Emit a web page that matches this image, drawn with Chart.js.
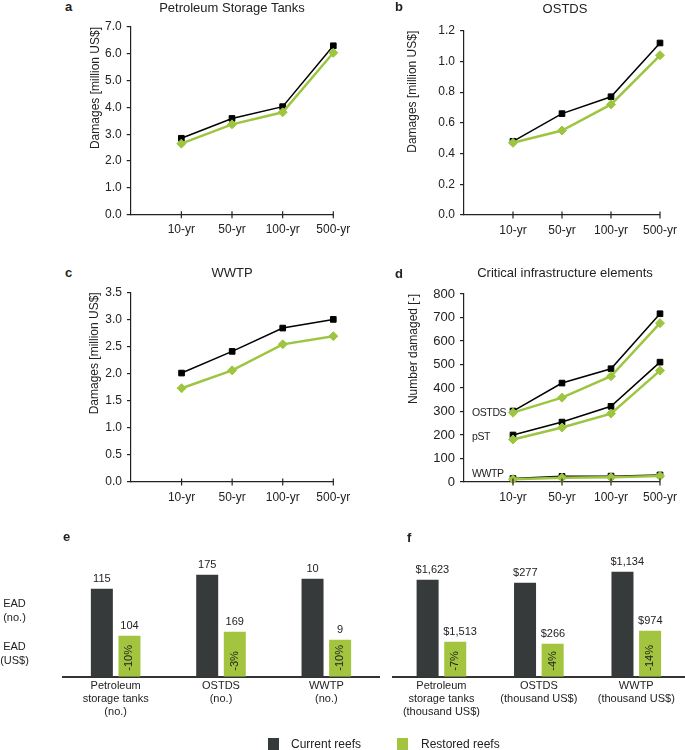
<!DOCTYPE html>
<html>
<head>
<meta charset="utf-8">
<script src="https://cdn.jsdelivr.net/npm/chart.js@4.4.1/dist/chart.umd.min.js"></script>
<style>
  body { margin: 0; background: #fff; }
  #fig { position: relative; width: 685px; height: 750px; overflow: hidden;
         font-family: "Liberation Sans", Arial, sans-serif; color: #222; }
  #fig canvas { position: absolute; }
  .t { position: absolute; white-space: nowrap; line-height: 1; }
  .ttl { font-size: 13px; text-align: center; width: 240px; }
  .lt { font-size: 13px; font-weight: bold; }
  .ann { font-size: 10.5px; letter-spacing: -0.4px; }
  .ead { font-size: 11px; line-height: 14px; text-align: center; width: 29px; left: 0; }
  .sw { position: absolute; width: 11px; height: 12px; }
  .lg { font-size: 12px; }
</style>
</head>
<body>
<div id="fig">
  <canvas id="chA"></canvas>
  <canvas id="chB"></canvas>
  <canvas id="chC"></canvas>
  <canvas id="chD"></canvas>
  <canvas id="chE"></canvas>
  <canvas id="chF"></canvas>

  <div class="t lt" style="left:65px;top:0px">a</div>
  <div class="t ttl" style="left:112px;top:1px">Petroleum Storage Tanks</div>
  <div class="t lt" style="left:395px;top:0px">b</div>
  <div class="t ttl" style="left:445px;top:2px">OSTDS</div>
  <div class="t lt" style="left:65px;top:266px">c</div>
  <div class="t ttl" style="left:112px;top:266px">WWTP</div>
  <div class="t lt" style="left:395px;top:267px">d</div>
  <div class="t ttl" style="left:445px;top:266px">Critical infrastructure elements</div>

  <div class="t ann" style="left:472px;top:407px">OSTDS</div>
  <div class="t ann" style="left:472px;top:431px">pST</div>
  <div class="t ann" style="left:472px;top:468px">WWTP</div>

  <div class="t lt" style="left:63px;top:530px">e</div>
  <div class="t lt" style="left:407px;top:531px">f</div>
  <div class="t ead" style="top:596px">EAD<br>(no.)</div>
  <div class="t ead" style="top:639px">EAD<br>(US$)</div>

  <div class="sw" style="left:268px;top:738px;background:#363a3b"></div>
  <div class="t lg" style="left:291px;top:738px">Current reefs</div>
  <div class="sw" style="left:397px;top:738px;background:#a3c43f"></div>
  <div class="t lg" style="left:421px;top:738px">Restored reefs</div>
</div>

<script>
// ---- data ----
var returnPeriods = ["10-yr", "50-yr", "100-yr", "500-yr"];

// a: petroleum storage tanks, damages [million US$]
var pstCurrent = [2.85, 3.59, 4.03, 6.30];
var pstRestored = [2.65, 3.37, 3.82, 6.04];

// b: OSTDS, damages [million US$]
var ostdsCurrent = [0.48, 0.66, 0.77, 1.12];
var ostdsRestored = [0.47, 0.55, 0.72, 1.04];

// c: WWTP, damages [million US$]
var wwtpCurrent = [2.01, 2.41, 2.84, 3.00];
var wwtpRestored = [1.73, 2.06, 2.54, 2.69];

// d: number of elements damaged
var nOstdsCurrent = [302, 421, 482, 716];
var nOstdsRestored = [295, 359, 450, 676];
var nPstCurrent = [200, 255, 322, 510];
var nPstRestored = [181, 232, 291, 474];
var nWwtpCurrent = [15, 24, 25, 30];
var nWwtpRestored = [12, 18, 20, 26];

// e / f: EAD bars. Bars are drawn schematically in the figure, so the
// heights are the drawn heights; the printed values are kept as labels.
var eGroups = [["Petroleum", "storage tanks", "(no.)"], ["OSTDS", "(no.)"], ["WWTP", "(no.)"]];
var eCurrentBar = [88, 102, 98];
var eRestoredBar = [41, 45, 37];
var eCurrentText = ["115", "175", "10"];
var eRestoredText = ["104", "169", "9"];
var eChange = ["-10%", "-3%", "-10%"];

var fGroups = [["Petroleum", "storage tanks", "(thousand US$)"], ["OSTDS", "(thousand US$)"], ["WWTP", "(thousand US$)"]];
var fCurrentBar = [97, 94, 105];
var fRestoredBar = [35, 33, 46];
var fCurrentText = ["$1,623", "$277", "$1,134"];
var fRestoredText = ["$1,513", "$266", "$974"];
var fChange = ["-7%", "-4%", "-14%"];

var BLACK = "#000000";
var GREEN = "#9dc540";
var BAR_DARK = "#363a3b";
var BAR_GREEN = "#a3c43f";
var FONT = '"Liberation Sans", Arial, sans-serif';

Chart.defaults.font.family = FONT;
Chart.defaults.color = "#222";

function toPoints(arr) {
  return arr.map(function (v, i) { return { x: i + 1, y: v }; });
}

function setBox(canvas, box) {
  canvas.width = box.w;
  canvas.height = box.h;
  canvas.style.left = box.x + "px";
  canvas.style.top = box.y + "px";
  canvas.style.width = box.w + "px";
  canvas.style.height = box.h + "px";
}

// x ticks crossing the axis line
var crossTicks = {
  id: "crossTicks",
  afterDraw: function (chart) {
    var sx = chart.scales.x, ctx = chart.ctx, y = chart.chartArea.bottom;
    ctx.save();
    ctx.strokeStyle = "#222";
    ctx.lineWidth = 1.2;
    sx.ticks.forEach(function (t) {
      var px = sx.getPixelForValue(t.value);
      ctx.beginPath();
      ctx.moveTo(px, y - 3.5);
      ctx.lineTo(px, y + 3.5);
      ctx.stroke();
    });
    ctx.restore();
  },
};

function lineChart(id, box, plot, y, pairs) {
  var el = document.getElementById(id);
  setBox(el, box);
  var datasets = [];
  pairs.forEach(function (p) {
    datasets.push({
      data: toPoints(p[0]), borderColor: BLACK, backgroundColor: BLACK,
      borderWidth: 1.5, pointStyle: "rect", pointRadius: 4, pointBorderWidth: 1,
      pointBorderColor: BLACK, clip: false, order: 1,
    });
    datasets.push({
      data: toPoints(p[1]), borderColor: GREEN, backgroundColor: GREEN,
      borderWidth: 2.5, pointStyle: "rectRot", pointRadius: 4.5, pointBorderWidth: 1,
      pointBorderColor: GREEN, clip: false, order: 0,
    });
  });
  var yw = plot.l - box.x;
  return new Chart(el, {
    type: "line",
    data: { datasets: datasets },
    plugins: [crossTicks],
    options: {
      responsive: false,
      animation: false,
      devicePixelRatio: 1,
      layout: {
        padding: {
          left: 0,
          top: plot.t - box.y,
          right: box.x + box.w - plot.r,
          bottom: box.y + box.h - plot.b - 30,
        },
      },
      plugins: { legend: { display: false }, tooltip: { enabled: false } },
      scales: {
        x: {
          type: "linear", min: 0, max: 4,
          afterBuildTicks: function (s) {
            s.ticks = s.ticks.filter(function (t) { return t.value > 0; });
          },
          afterFit: function (s) { s.height = 30; },
          ticks: {
            stepSize: 1, padding: 8, color: "#222", font: { size: 12 },
            callback: function (v) { return returnPeriods[v - 1] || ""; },
          },
          grid: { drawOnChartArea: false, drawTicks: false },
          border: { display: true, color: "#222", width: 1.2 },
        },
        y: {
          min: y.min, max: y.max,
          afterFit: function (s) { s.width = yw; },
          ticks: {
            stepSize: y.step, padding: 5, color: "#222", font: { size: y.font || 12 },
            callback: function (v) { return v.toFixed(y.dec); },
          },
          grid: { drawOnChartArea: false, drawTicks: true, tickLength: 4, color: "#222", lineWidth: 1.2 },
          border: { display: true, color: "#222", width: 1.2 },
          title: { display: true, text: y.title, align: "end", color: "#222", font: { size: 12 } },
        },
      },
    },
  });
}

lineChart("chA", { x: 84, y: 0, w: 300, h: 250 }, { l: 130.7, t: 27, r: 333.3, b: 214.7 },
  { min: 0, max: 7, step: 1, dec: 1, title: "Damages [million US$]" },
  [[pstCurrent, pstRestored]]);

lineChart("chB", { x: 401, y: 0, w: 284, h: 250 }, { l: 464, t: 30.7, r: 666, b: 215 },
  { min: 0, max: 1.2, step: 0.2, dec: 1, title: "Damages [million US$]" },
  [[ostdsCurrent, ostdsRestored]]);

lineChart("chC", { x: 83, y: 250, w: 301, h: 265 }, { l: 131, t: 292.3, r: 333.3, b: 482 },
  { min: 0, max: 3.5, step: 0.5, dec: 1, title: "Damages [million US$]" },
  [[wwtpCurrent, wwtpRestored]]);

lineChart("chD", { x: 402, y: 250, w: 283, h: 265 }, { l: 464, t: 294, r: 666, b: 482 },
  { min: 0, max: 800, step: 100, dec: 0, font: 13, title: "Number damaged [-]" },
  [[nOstdsCurrent, nOstdsRestored], [nPstCurrent, nPstRestored], [nWwtpCurrent, nWwtpRestored]]);

// value labels above bars, change inside restored bars
var barLabels = {
  id: "barLabels",
  afterDatasetsDraw: function (chart, args, opts) {
    var ctx = chart.ctx;
    ctx.save();
    ctx.font = "11px " + FONT;
    ctx.fillStyle = "#222";
    ctx.textBaseline = "middle";
    chart.data.datasets.forEach(function (ds, di) {
      chart.getDatasetMeta(di).data.forEach(function (bar, i) {
        if (opts.align === "left") {
          ctx.textAlign = "left";
          ctx.fillText(ds.valueText[i], bar.x - bar.width / 2 - 1, bar.y - 10);
        } else {
          ctx.textAlign = "center";
          ctx.fillText(ds.valueText[i], bar.x, bar.y - 10);
        }
      });
    });
    chart.getDatasetMeta(1).data.forEach(function (bar, i) {
      ctx.save();
      ctx.translate(bar.x, bar.base - 6);
      ctx.rotate(-Math.PI / 2);
      ctx.textAlign = "left";
      ctx.fillText(opts.change[i], 0, 0);
      ctx.restore();
    });
    ctx.restore();
  },
};

function barChart(id, box, plot, groups, cur, res, curText, resText, change, catPct, align) {
  var el = document.getElementById(id);
  setBox(el, box);
  var baseline = plot.b;
  return new Chart(el, {
    type: "bar",
    data: {
      labels: groups,
      datasets: [
        { data: cur, valueText: curText, backgroundColor: BAR_DARK, categoryPercentage: catPct, barPercentage: 0.797 },
        { data: res, valueText: resText, backgroundColor: BAR_GREEN, categoryPercentage: catPct, barPercentage: 0.797 },
      ],
    },
    plugins: [barLabels],
    options: {
      responsive: false,
      animation: false,
      devicePixelRatio: 1,
      layout: {
        padding: {
          left: plot.l - box.x,
          right: box.x + box.w - plot.r,
          top: baseline - 120 - box.y,
          bottom: box.y + box.h - baseline - 50,
        },
      },
      plugins: {
        legend: { display: false },
        tooltip: { enabled: false },
        barLabels: { change: change, align: align },
      },
      scales: {
        x: {
          afterFit: function (s) { s.height = 50; },
          grid: { display: false, drawTicks: false },
          border: { display: true, color: "#333", width: 2 },
          ticks: { padding: 3, color: "#222", font: { size: 11, lineHeight: 13 / 11 } },
        },
        y: { display: false, min: 0, max: 120 },
      },
    },
  });
}

barChart("chE", { x: 0, y: 540, w: 385, h: 210 }, { l: 63, r: 379, b: 676.7 },
  eGroups, eCurrentBar, eRestoredBar, eCurrentText, eRestoredText, eChange, 0.524, "center");

barChart("chF", { x: 385, y: 540, w: 300, h: 210 }, { l: 392.7, r: 685, b: 676.7 },
  fGroups, fCurrentBar, fRestoredBar, fCurrentText, fRestoredText, fChange, 0.567, "left");
</script>
</body>
</html>
